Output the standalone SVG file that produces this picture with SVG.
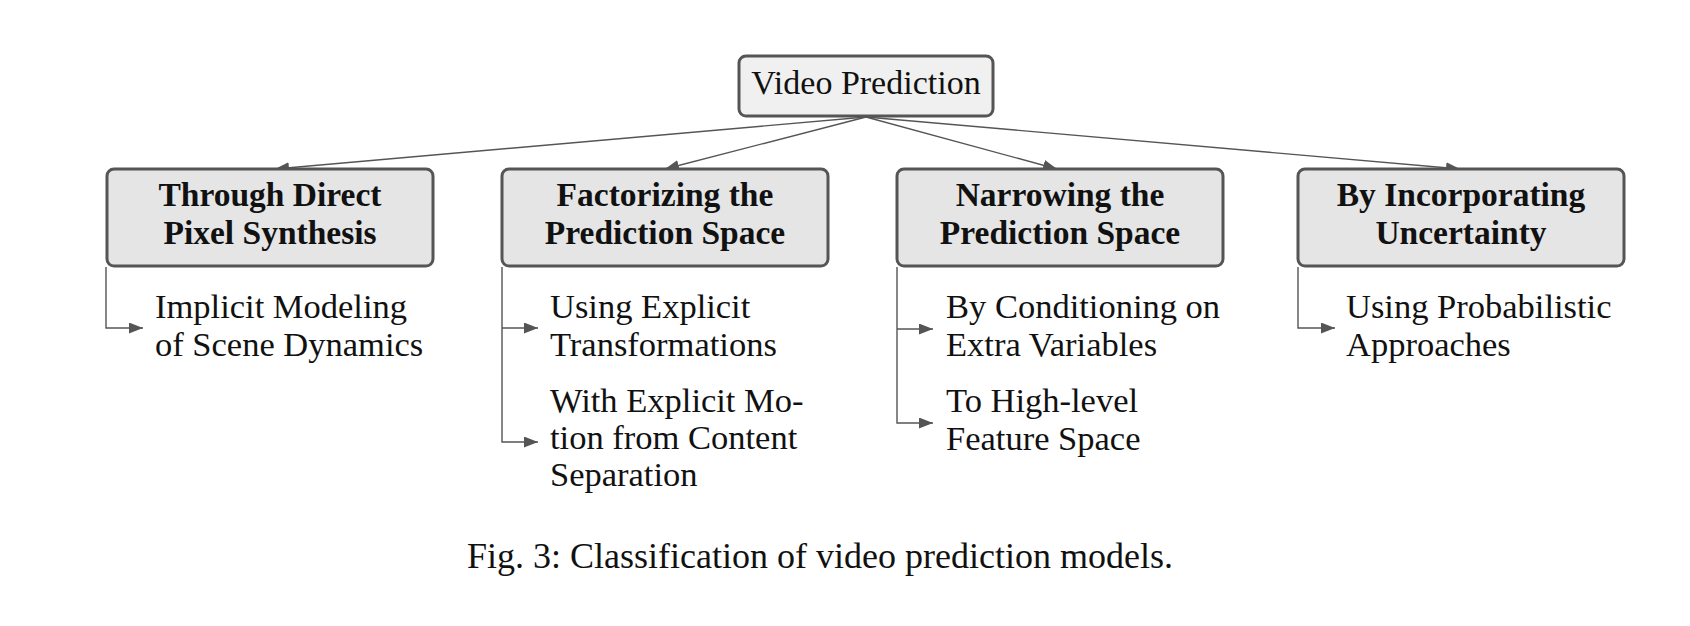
<svg xmlns="http://www.w3.org/2000/svg" width="1690" height="626" viewBox="0 0 1690 626">
<style>
.root{fill:#f0f0f0;stroke:#555;stroke-width:3}
.cat{fill:#e5e5e5;stroke:#555;stroke-width:3}
.t{font-family:"Liberation Serif",serif;font-size:34.5px;fill:#111}
.b{font-family:"Liberation Serif",serif;font-size:33.5px;font-weight:bold;fill:#111;text-anchor:middle}
.c{stroke:#555;stroke-width:1.4;fill:none}
</style>
<defs>
<marker id="ah" viewBox="0 0 14 11" refX="14" refY="5.5" markerWidth="14" markerHeight="11" markerUnits="userSpaceOnUse" orient="auto">
<path d="M0,0 L14,5.5 L0,11 z" fill="#555"/>
</marker>
</defs>
<rect width="1690" height="626" fill="#fff"/>
<g id="connectors">
<path class="c" d="M866,117 L275,169" marker-end="url(#ah)"/>
<path class="c" d="M866,117 L665,169" marker-end="url(#ah)"/>
<path class="c" d="M866,117 L1057,169" marker-end="url(#ah)"/>
<path class="c" d="M866,117 L1460,169" marker-end="url(#ah)"/>
<path class="c" d="M106,267 V328 H143" marker-end="url(#ah)"/>
<path class="c" d="M502,267 V442 H538" marker-end="url(#ah)"/>
<path class="c" d="M502,328 H538" marker-end="url(#ah)"/>
<path class="c" d="M897,267 V423 H933" marker-end="url(#ah)"/>
<path class="c" d="M897,329 H933" marker-end="url(#ah)"/>
<path class="c" d="M1298,267 V328 H1335" marker-end="url(#ah)"/>
</g>
<g id="root">
<rect class="root" x="739" y="56" width="254" height="60" rx="7"/>
<text class="t" x="866" y="94" text-anchor="middle" style="font-size:34px">Video Prediction</text>
</g>
<g id="cat1">
<rect class="cat" x="107" y="169" width="326" height="97" rx="7"/>
<text class="b" x="270" y="206">Through Direct</text>
<text class="b" x="270" y="244">Pixel Synthesis</text>
</g>
<g id="cat2">
<rect class="cat" x="502" y="169" width="326" height="97" rx="7"/>
<text class="b" x="665" y="206">Factorizing the</text>
<text class="b" x="665" y="244">Prediction Space</text>
</g>
<g id="cat3">
<rect class="cat" x="897" y="169" width="326" height="97" rx="7"/>
<text class="b" x="1060" y="206">Narrowing the</text>
<text class="b" x="1060" y="244">Prediction Space</text>
</g>
<g id="cat4">
<rect class="cat" x="1298" y="169" width="326" height="97" rx="7"/>
<text class="b" x="1461" y="206">By Incorporating</text>
<text class="b" x="1461" y="244">Uncertainty</text>
</g>
<g id="leaf1">
<text class="t" x="155" y="318">Implicit Modeling</text>
<text class="t" x="155" y="356">of Scene Dynamics</text>
</g>
<g id="leaf2">
<text class="t" x="550" y="318">Using Explicit</text>
<text class="t" x="550" y="356">Transformations</text>
</g>
<g id="leaf3">
<text class="t" x="550" y="412">With Explicit Mo-</text>
<text class="t" x="550" y="449">tion from Content</text>
<text class="t" x="550" y="486">Separation</text>
</g>
<g id="leaf4">
<text class="t" x="946" y="318">By Conditioning on</text>
<text class="t" x="946" y="356">Extra Variables</text>
</g>
<g id="leaf5">
<text class="t" x="946" y="412">To High-level</text>
<text class="t" x="946" y="450">Feature Space</text>
</g>
<g id="leaf6">
<text class="t" x="1346" y="318">Using Probabilistic</text>
<text class="t" x="1346" y="356">Approaches</text>
</g>
<text class="t" x="820" y="568" text-anchor="middle" style="font-size:36px">Fig. 3: Classification of video prediction models.</text>
</svg>
